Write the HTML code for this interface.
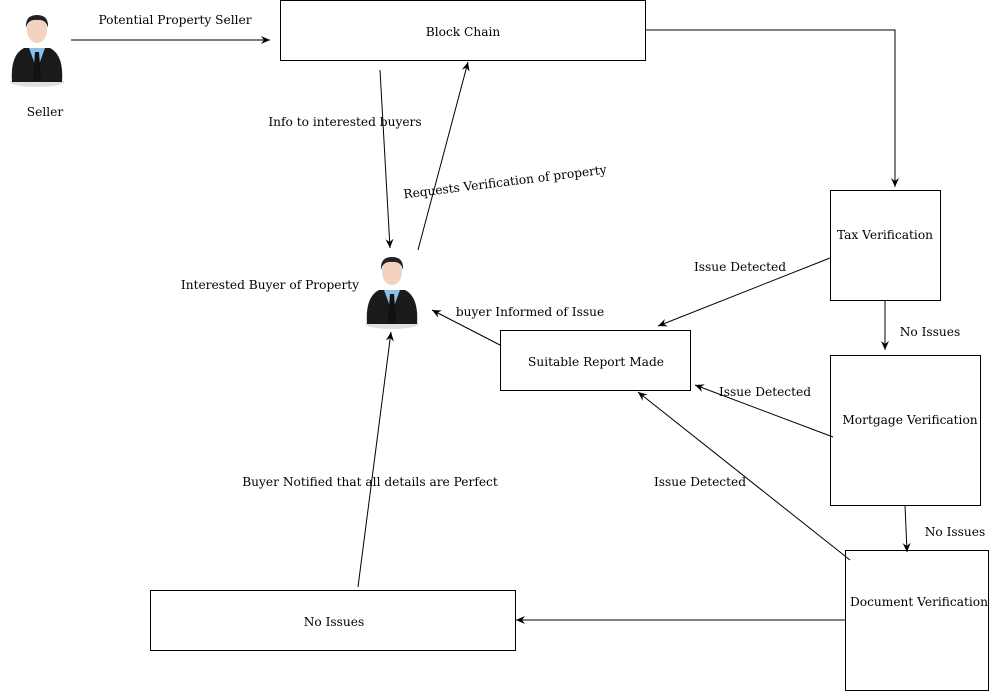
<!DOCTYPE html>
<html><head><style>
body{margin:0;background:#fff;}
svg{display:block;font-family:"DejaVu Serif","Liberation Serif",serif;font-size:12.2px;}
</style></head><body>
<svg width="996" height="691" viewBox="0 0 996 691">
<defs>
<marker id="a" markerWidth="10" markerHeight="10" refX="9" refY="5" orient="auto" markerUnits="userSpaceOnUse">
<path d="M0,1 L9,5 L0,9 L3,5 z" fill="#000"/></marker>
<g id="p">
<ellipse cx="27" cy="72" rx="27" ry="5" fill="#ccc" opacity=".6"/>
<path d="M2,72 Q0,45 14,38 L40,38 Q54,45 52,72 Z" fill="#1a1a1a"/>
<path d="M19,38 L27,60 L35,38 Z" fill="#8cc0e6"/>
<path d="M25,42 L29,42 L31,68 L27,72 L23,68 Z" fill="#111"/>
<ellipse cx="27" cy="20" rx="10" ry="13" fill="#f3d3c0"/>
<path d="M16,18 Q15,5 27,5 Q39,5 38,18 Q36,9 27,10 Q18,9 16,18 Z" fill="#222"/>
</g>
</defs>
<g fill="none" stroke="#000" stroke-width="1">
<rect x="280.5" y="0.5" width="365" height="60"/>
<rect x="830.5" y="190.5" width="110" height="110"/>
<rect x="830.5" y="355.5" width="150" height="150"/>
<rect x="845.5" y="550.5" width="143" height="140"/>
<rect x="150.5" y="590.5" width="365" height="60"/>
<rect x="500.5" y="330.5" width="190" height="60"/>
<line x1="71" y1="40" x2="270" y2="40" marker-end="url(#a)"/>
<polyline points="645,30 895,30 895,187" marker-end="url(#a)"/>
<line x1="380" y1="70" x2="390" y2="248" marker-end="url(#a)"/>
<line x1="418" y1="250" x2="468" y2="62" marker-end="url(#a)"/>
<line x1="830" y1="258" x2="658" y2="326" marker-end="url(#a)"/>
<line x1="885" y1="300" x2="885" y2="350" marker-end="url(#a)"/>
<line x1="833" y1="437" x2="695" y2="385" marker-end="url(#a)"/>
<line x1="905" y1="505" x2="907" y2="552" marker-end="url(#a)"/>
<line x1="850" y1="560" x2="638" y2="392" marker-end="url(#a)"/>
<line x1="845" y1="620" x2="516" y2="620" marker-end="url(#a)"/>
<line x1="358" y1="587" x2="391" y2="332" marker-end="url(#a)"/>
<line x1="500" y1="345" x2="432" y2="310" marker-end="url(#a)"/>
</g>
<use href="#p" x="10" y="10"/>
<use href="#p" x="365" y="252"/>
<g fill="#000" text-anchor="middle">
<text x="45" y="116">Seller</text>
<text x="175" y="24">Potential Property Seller</text>
<text x="463" y="36">Block Chain</text>
<text x="345" y="126">Info to interested buyers</text>
<text x="505" y="186" transform="rotate(-7 505 182)">Requests Verification of property</text>
<text x="885" y="239">Tax Verification</text>
<text x="740" y="271">Issue Detected</text>
<text x="270" y="289">Interested Buyer of Property</text>
<text x="530" y="316">buyer Informed of Issue</text>
<text x="930" y="336">No Issues</text>
<text x="596" y="366">Suitable Report Made</text>
<text x="765" y="396">Issue Detected</text>
<text x="910" y="424">Mortgage Verification</text>
<text x="700" y="486">Issue Detected</text>
<text x="370" y="486">Buyer Notified that all details are Perfect</text>
<text x="955" y="536">No Issues</text>
<text x="919" y="606">Document Verification</text>
<text x="334" y="626">No Issues</text>
</g>
</svg>
</body></html>
